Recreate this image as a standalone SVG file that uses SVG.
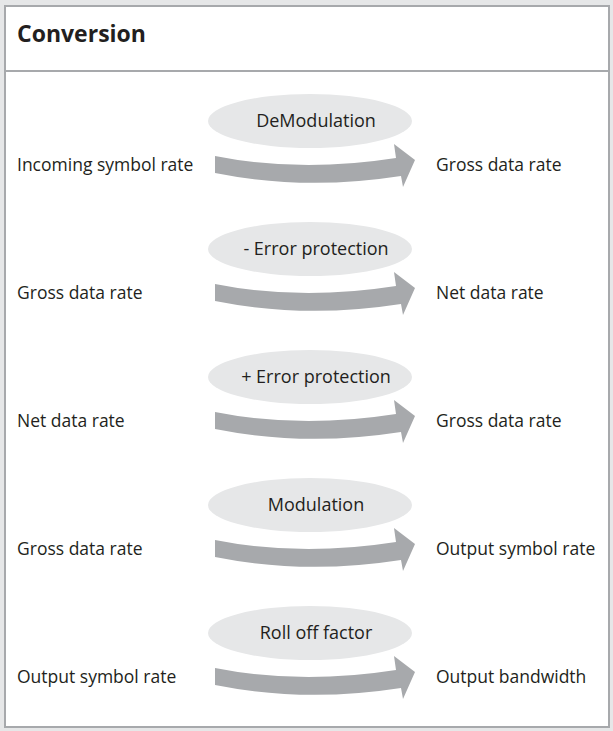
<svg xmlns="http://www.w3.org/2000/svg" width="613" height="731" viewBox="0 0 613 731">
  <defs>
    <style>
      .frame { fill: #ffffff; stroke: #a7a9ac; stroke-width: 2; }
      .rule { stroke: #a7a9ac; stroke-width: 2; }
      .title { font-family: "Open Sans", "Liberation Sans", sans-serif; font-weight: 700; font-size: 23px; fill: #231f20; }
      .label { font-family: "Open Sans", "Liberation Sans", sans-serif; font-size: 17.5px; fill: #231f20; }
      .op { font-family: "Open Sans", "Liberation Sans", sans-serif; font-size: 18px; fill: #231f20; text-anchor: middle; }
      .bubble { fill: #e6e7e8; }
      .arrow { fill: #a7a9ac; }
    </style>
    <!-- curved block arrow, drawn around its row centre line (y = 0) -->
    <path id="curved-arrow" class="arrow" d="M215,-9 Q300,8 396,-7 L394,-21 L415,-5 L403,22 L401,11 Q305,26 215,8 Z"/>
  </defs>

  <rect x="0" y="0" width="613" height="731" fill="#e6e7e8"/>
  <rect class="frame" x="5" y="6" width="604" height="721"/>
  <line class="rule" x1="5" y1="71" x2="609" y2="71"/>
  <text class="title" x="17" y="42">Conversion</text>

  <g id="connectors">
    <use href="#curved-arrow" transform="translate(0,165)"/>
    <use href="#curved-arrow" transform="translate(0,293)"/>
    <use href="#curved-arrow" transform="translate(0,421)"/>
    <use href="#curved-arrow" transform="translate(0,549)"/>
    <use href="#curved-arrow" transform="translate(0,677)"/>
  </g>

  <!-- row 1 -->
  <g id="demodulation">
    <ellipse class="bubble" cx="310" cy="121" rx="102" ry="27"/>
    <text class="op" x="316" y="127">DeModulation</text>
  </g>
  <g id="incoming-symbol-rate"><text class="label" x="17" y="171">Incoming symbol rate</text></g>
  <g id="gross-data-rate-1"><text class="label" x="436" y="171">Gross data rate</text></g>

  <!-- row 2 -->
  <g id="minus-error-protection">
    <ellipse class="bubble" cx="310" cy="249" rx="102" ry="27"/>
    <text class="op" x="316" y="255">- Error protection</text>
  </g>
  <g id="gross-data-rate-2"><text class="label" x="17" y="299">Gross data rate</text></g>
  <g id="net-data-rate-1"><text class="label" x="436" y="299">Net data rate</text></g>

  <!-- row 3 -->
  <g id="plus-error-protection">
    <ellipse class="bubble" cx="310" cy="377" rx="102" ry="27"/>
    <text class="op" x="316" y="383">+ Error protection</text>
  </g>
  <g id="net-data-rate-2"><text class="label" x="17" y="427">Net data rate</text></g>
  <g id="gross-data-rate-3"><text class="label" x="436" y="427">Gross data rate</text></g>

  <!-- row 4 -->
  <g id="modulation">
    <ellipse class="bubble" cx="310" cy="505" rx="102" ry="27"/>
    <text class="op" x="316" y="511">Modulation</text>
  </g>
  <g id="gross-data-rate-4"><text class="label" x="17" y="555">Gross data rate</text></g>
  <g id="output-symbol-rate-1"><text class="label" x="436" y="555">Output symbol rate</text></g>

  <!-- row 5 -->
  <g id="roll-off-factor">
    <ellipse class="bubble" cx="310" cy="633" rx="102" ry="27"/>
    <text class="op" x="316" y="639">Roll off factor</text>
  </g>
  <g id="output-symbol-rate-2"><text class="label" x="17" y="683">Output symbol rate</text></g>
  <g id="output-bandwidth"><text class="label" x="436" y="683">Output bandwidth</text></g>
</svg>
